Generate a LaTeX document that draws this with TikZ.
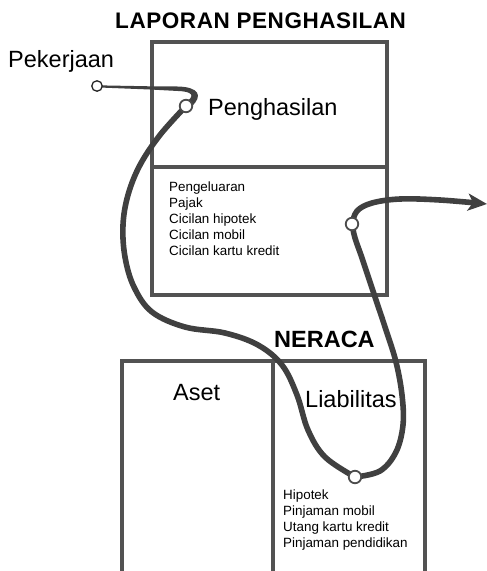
\documentclass[tikz,border=0pt]{standalone}
\usepackage{fontspec}
\setmainfont{Liberation Sans}
\usetikzlibrary{arrows.meta}
\begin{document}
\begin{tikzpicture}[x=1pt,y=-1pt,
  boxline/.style={draw=black!68,line width=3.2pt},
  flow/.style={draw=black!75,line width=5.6pt,line cap=round,line join=round},
  dot/.style={circle,draw=black!70,fill=white,line width=1.8pt,minimum size=12.5pt,inner sep=0pt},
  big/.style={font=\fontsize{23.5}{26}\selectfont,anchor=base west,inner sep=0pt},
  bold/.style={font=\fontsize{23.5}{26}\selectfont\bfseries,anchor=base west,inner sep=0pt},
  small/.style={font=\fontsize{13.4}{16}\selectfont,anchor=north west,inner sep=0pt,align=left}]
\useasboundingbox (0,0) rectangle (487,571);
% boxes
\draw[boxline] (152,42) rectangle (387,295);
\draw[boxline] (152,167) -- (387,167);
\draw[boxline] (122,576) -- (122,361) -- (425,361) -- (425,576);
\draw[boxline] (273,361) -- (273,576);
% texts
\node[bold,font=\fontsize{22.5}{24}\selectfont\bfseries\addfontfeature{LetterSpace=2.5}] (title) at (115,28) {LAPORAN PENGHASILAN};
\node[big] (kerja) at (8,67) {Pekerjaan};
\node[big] (hasil) at (208,115) {Penghasilan};
\node[small] (keluar) at (169,182) {Pengeluaran\\Pajak\\Cicilan hipotek\\Cicilan mobil\\Cicilan kartu kredit};
\node[bold] (neraca) at (274,347) {NERACA};
\node[big] (aset) at (173,400) {Aset};
\node[big] (liab) at (305,407) {Liabilitas};
\node[small] (utang) at (283,490) {Hipotek\\Pinjaman mobil\\Utang kartu kredit\\Pinjaman pendidikan};
% circle positions
\coordinate (p0) at (97,86);
\coordinate (p1) at (186,106);
\coordinate (p2) at (352,224);
\coordinate (p3) at (355,477);
\coordinate (pend) at (487,204);
% tapered thin start
\fill[black!75] (102,85.4) -- (150,86.3) -- (178,86.5) .. controls (199,87) and (203,96) .. (192,106)
  -- (186,102) .. controls (195,96) and (193,91.5) .. (178,91) -- (150,89.5) -- (102,87.6) -- cycle;
% main thick flow
\draw[flow] plot[smooth,tension=0.6] coordinates {(p1) (160,135) (140,165) (128,195) (123,225) (125,257) (134,287) (152,312) (185,327) (225,333) (258,345) (282,365) (297,395) (308,430) (325,457) (p3)};
\draw[flow] plot[smooth,tension=0.6] coordinates {(p3) (380,471) (396,452) (403,425) (402,395) (396,362) (386,330) (374,294) (362,258) (355,238) (p2)};
\draw[flow,-{Stealth[length=19pt,width=17pt,inset=5pt]}] plot[smooth,tension=0.6] coordinates {(p2) (357,211) (372,203) (400,199) (440,200) (pend)};
% circles
\node[dot,minimum size=10.5pt,draw=black!85,line width=1.3pt] (c0) at (p0) {};
\node[dot] (c1) at (p1) {};
\node[dot] (c2) at (p2) {};
\node[dot] (c3) at (p3) {};
\end{tikzpicture}
\end{document}
